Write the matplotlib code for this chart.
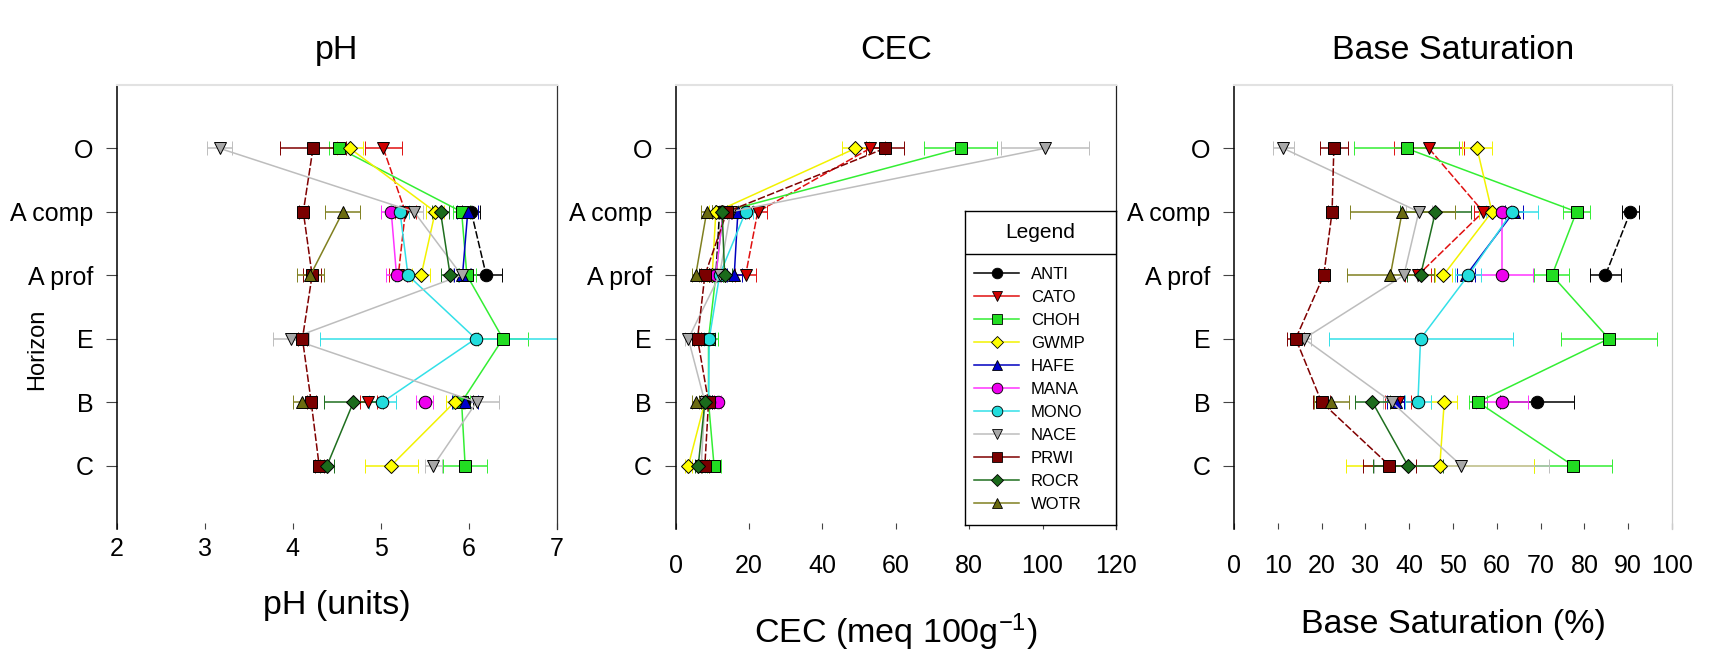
import numpy as np
import matplotlib
matplotlib.use('Agg')
import matplotlib.pyplot as plt
from matplotlib.lines import Line2D

plt.rcParams['font.family'] = ['Liberation Sans', 'DejaVu Sans']
plt.rcParams['mathtext.fontset'] = 'custom'
plt.rcParams['mathtext.rm'] = 'Liberation Sans'
plt.rcParams['mathtext.default'] = 'regular'

nan = np.nan

horizons = ['O', 'A comp', 'A prof', 'E', 'B', 'C']
sites = ['ANTI', 'CATO', 'CHOH', 'GWMP', 'HAFE', 'MANA', 'MONO', 'NACE', 'PRWI', 'ROCR', 'WOTR']

# pH (units), mean and error per horizon
ph_mean = {
    'ANTI': [nan, 6.03, 6.20, nan, 5.95, nan],
    'CATO': [5.03, 5.28, 5.20, nan, 4.86, nan],
    'CHOH': [4.53, 5.92, 5.98, 6.39, 5.92, 5.96],
    'GWMP': [4.65, 5.62, 5.46, nan, 5.84, 5.12],
    'HAFE': [nan, 5.99, 5.93, nan, 5.96, nan],
    'MANA': [nan, 5.12, 5.18, nan, 5.50, nan],
    'MONO': [nan, 5.22, 5.31, 6.08, 5.02, nan],
    'NACE': [3.17, 5.38, 5.92, 3.98, 6.09, 5.60],
    'PRWI': [4.23, 4.12, 4.22, 4.11, 4.21, 4.30],
    'ROCR': [nan, 5.68, 5.79, nan, 4.69, 4.39],
    'WOTR': [nan, 4.57, 4.20, nan, 4.10, nan],
}
ph_err = {
    'ANTI': [nan, 0.10, 0.18, nan, 0.10, nan],
    'CATO': [0.21, 0.12, 0.10, nan, 0.10, nan],
    'CHOH': [0.12, 0.10, 0.10, 0.28, 0.10, 0.25],
    'GWMP': [0.15, 0.10, 0.10, nan, 0.10, 0.30],
    'HAFE': [nan, 0.12, 0.10, nan, 0.15, nan],
    'MANA': [nan, 0.12, 0.12, nan, 0.10, nan],
    'MONO': [nan, 0.10, 0.15, 1.77, 0.15, nan],
    'NACE': [0.14, 0.10, 0.10, 0.20, 0.25, 0.10],
    'PRWI': [0.37, 0.05, 0.10, 0.05, 0.05, 0.05],
    'ROCR': [nan, 0.10, 0.10, nan, 0.34, 0.08],
    'WOTR': [nan, 0.20, 0.15, nan, 0.10, nan],
}

# CEC (meq 100g-1)
cec_mean = {
    'ANTI': [nan, 12.0, 11.0, nan, 9.0, nan],
    'CATO': [53.0, 22.4, 19.1, nan, 9.5, nan],
    'CHOH': [77.7, 13.0, 11.0, 9.0, 9.0, 10.5],
    'GWMP': [49.0, 11.0, 10.0, nan, 8.0, 3.5],
    'HAFE': [nan, 17.0, 16.0, nan, 9.0, nan],
    'MANA': [nan, 13.0, 11.0, nan, 11.5, nan],
    'MONO': [nan, 19.1, 12.0, 9.2, 9.0, nan],
    'NACE': [100.6, 15.0, 12.0, 3.5, 8.0, 7.0],
    'PRWI': [57.0, 14.0, 8.0, 6.0, 9.0, 8.0],
    'ROCR': [nan, 12.7, 13.4, nan, 8.0, 6.2],
    'WOTR': [nan, 8.5, 5.5, nan, 5.5, nan],
}
cec_err = {
    'ANTI': [nan, 2.0, 2.0, nan, 1.0, nan],
    'CATO': [4.0, 2.5, 2.8, nan, 1.0, nan],
    'CHOH': [10.0, 2.0, 2.0, 2.5, 1.0, 2.0],
    'GWMP': [3.7, 2.0, 1.5, nan, 1.0, 1.0],
    'HAFE': [nan, 2.0, 2.0, nan, 1.0, nan],
    'MANA': [nan, 2.0, 1.5, nan, 1.0, nan],
    'MONO': [nan, 2.0, 1.5, 1.5, 1.0, nan],
    'NACE': [12.0, 2.0, 1.5, 1.0, 1.0, 1.0],
    'PRWI': [5.2, 1.5, 1.0, 1.0, 1.0, 1.0],
    'ROCR': [nan, 2.0, 2.0, nan, 1.0, 1.0],
    'WOTR': [nan, 1.5, 1.0, nan, 1.0, nan],
}

# Base saturation (%)
bs_mean = {
    'ANTI': [nan, 90.5, 84.8, nan, 69.2, nan],
    'CATO': [44.5, 56.9, 42.0, nan, 37.5, nan],
    'CHOH': [39.4, 78.2, 72.6, 85.6, 55.7, 77.4],
    'GWMP': [55.5, 58.9, 47.8, nan, 48.0, 47.0],
    'HAFE': [nan, 63.9, 53.0, nan, 36.9, nan],
    'MANA': [nan, 61.2, 61.2, nan, 61.2, nan],
    'MONO': [nan, 63.5, 53.5, 42.6, 42.0, nan],
    'NACE': [11.3, 42.2, 38.8, 16.0, 36.0, 51.9],
    'PRWI': [22.8, 22.4, 20.5, 14.1, 20.0, 35.5],
    'ROCR': [nan, 46.0, 42.6, nan, 31.6, 39.7],
    'WOTR': [nan, 38.4, 35.7, nan, 22.2, nan],
}
bs_err = {
    'ANTI': [nan, 2.0, 3.5, nan, 8.4, nan],
    'CATO': [8.0, 2.0, 3.0, nan, 3.0, nan],
    'CHOH': [12.0, 3.0, 4.0, 11.0, 2.0, 9.0],
    'GWMP': [3.4, 3.0, 2.0, nan, 3.0, 21.5],
    'HAFE': [nan, 2.0, 2.0, nan, 2.0, nan],
    'MANA': [nan, 2.0, 7.0, nan, 6.0, nan],
    'MONO': [nan, 6.0, 3.0, 21.0, 3.0, nan],
    'NACE': [2.5, 3.0, 3.0, 1.5, 2.0, 20.0],
    'PRWI': [3.2, 1.0, 1.0, 2.0, 2.0, 6.0],
    'ROCR': [nan, 8.0, 3.0, nan, 4.0, 8.0],
    'WOTR': [nan, 12.0, 10.0, nan, 4.0, nan],
}

line_colors = {
    'ANTI': '#000000', 'CATO': '#e01010', 'CHOH': '#33ee33', 'GWMP': '#f2f200',
    'HAFE': '#0000c0', 'MANA': '#ff33ff', 'MONO': '#33e0e8', 'NACE': '#bdbdbd',
    'PRWI': '#800000', 'ROCR': '#1f6f1f', 'WOTR': '#808020',
}
face_colors = {
    'ANTI': '#000000', 'CATO': '#d00000', 'CHOH': '#22dd22', 'GWMP': '#ffff00',
    'HAFE': '#0000cc', 'MANA': '#ee00ee', 'MONO': '#22dddd', 'NACE': '#a8a8a8',
    'PRWI': '#7a0000', 'ROCR': '#1b6b1b', 'WOTR': '#6b6b10',
}
markers = {
    'ANTI': 'o', 'CATO': 'v', 'CHOH': 's', 'GWMP': 'D', 'HAFE': '^', 'MANA': 'o',
    'MONO': 'o', 'NACE': 'v', 'PRWI': 's', 'ROCR': 'D', 'WOTR': '^',
}
msizes = {'o': 9, 'v': 9, '^': 9, 's': 8, 'D': 7.5}
dashed = ['ANTI', 'CATO', 'PRWI']

panels = [
    ('pH', ph_mean, ph_err, (2, 7), [2, 3, 4, 5, 6, 7], 'pH (units)', -0.172, 5.8),
    ('CEC', cec_mean, cec_err, (0, 120), [0, 20, 40, 60, 80, 100, 120],
     'CEC (meq 100g$^{-1}$)', -0.232, 18),
    ('Base Saturation', bs_mean, bs_err, (0, 100), list(range(0, 101, 10)),
     'Base Saturation (%)', -0.215, 18),
]
lefts = [0.0683, 0.3948, 0.7212]
widths = [0.2570, 0.2574, 0.2560]
right_colors = ['#333333', '#222222', '#cccccc']

ypos = np.arange(1, len(horizons) + 1)

fig = plt.figure(figsize=(17.11, 6.55), dpi=100)

for i, (title, means, errs, xlim, xticks, xlabel, xl_y, pad) in enumerate(panels):
    ax = fig.add_axes([lefts[i], 0.1924, widths[i], 0.6779])
    for s in sites:
        ls = (0, (5, 1.5)) if s in dashed else '-'
        ax.errorbar(means[s], ypos, xerr=errs[s], color=line_colors[s], lw=1.1,
                    ls=ls, elinewidth=1.1, capsize=5, capthick=1.1,
                    marker=markers[s], ms=msizes[markers[s]],
                    mfc=face_colors[s], mec='black', mew=0.7)
    ax.set_xlim(*xlim)
    ax.set_ylim(7, 0)
    ax.set_xticks(xticks)
    ax.set_yticks(ypos)
    ax.set_yticklabels(horizons)
    ax.tick_params(axis='x', direction='in', length=4, width=0.8, pad=pad,
                   labelsize=18, color='#444444')
    ax.tick_params(axis='y', direction='out', length=8, width=0.8, pad=9,
                   labelsize=18, color='#444444')
    ax.spines['bottom'].set_visible(False)
    ax.spines['left'].set_color('black')
    ax.spines['left'].set_linewidth(1.1)
    ax.spines['top'].set_color('#e2e2e2')
    ax.spines['top'].set_linewidth(1.5)
    ax.spines['right'].set_color(right_colors[i])
    ax.spines['right'].set_linewidth(0.9)
    ax.text(0.5, 1.077, title, transform=ax.transAxes, ha='center', va='center',
            fontsize=24.5)
    ax.text(0.5, xl_y, xlabel, transform=ax.transAxes, ha='center', va='center',
            fontsize=24.5)

fig.text(37 / 1711, 1 - 349 / 655, 'Horizon', rotation=90, ha='center',
         va='center', fontsize=17)

# legend box inside the CEC panel
lax = fig.add_axes([0.564, 0.1985, 0.0883, 0.48])
lax.set_xticks([])
lax.set_yticks([])
for sp in lax.spines.values():
    sp.set_color('black')
    sp.set_linewidth(1.0)
lax.set_xlim(0, 1)
lax.set_ylim(0, 1)
lax.axhline(0.862, color='black', lw=1.0)
lax.text(0.5, 0.931, 'Legend', ha='center', va='center', fontsize=15)
handles = [Line2D([], [], color=line_colors[s], lw=1.1, marker=markers[s],
                  ms=msizes[markers[s]] * 0.85, mfc=face_colors[s], mec='black',
                  mew=0.6) for s in sites]
lax.legend(handles, sites, loc='upper left', bbox_to_anchor=(0.06, 0.822),
           frameon=False, fontsize=12, labelspacing=0.48, handlelength=2.7,
           handletextpad=0.7, borderpad=0, borderaxespad=0)

fig.savefig('out.png', dpi=100)
